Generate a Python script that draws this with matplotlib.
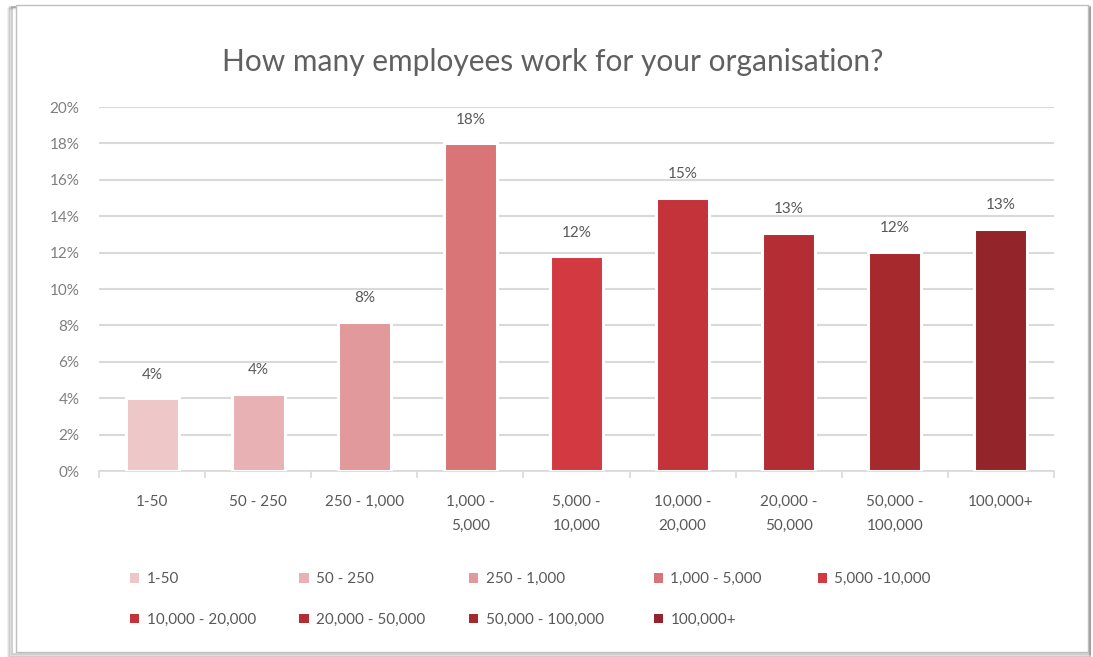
import matplotlib
matplotlib.use("Agg")
import matplotlib.pyplot as plt
from matplotlib.patches import Rectangle, Patch

categories = ["1-50", "50 - 250", "250 - 1,000", "1,000 - 5,000", "5,000 -10,000",
              "10,000 - 20,000", "20,000 - 50,000", "50,000 - 100,000", "100,000+"]
tick_labels = ["1-50", "50 - 250", "250 - 1,000", "1,000 -\n5,000", "5,000 -\n10,000",
               "10,000 -\n20,000", "20,000 -\n50,000", "50,000 -\n100,000", "100,000+"]
shares = [4.0, 4.25, 8.2, 18.0, 11.8, 15.0, 13.1, 12.05, 13.3]
colours = ["#EEC7C9", "#E8B2B4", "#E1999B", "#D97577", "#D33941",
           "#C4323A", "#B52D34", "#A6292E", "#93252A"]

plt.rcParams['font.family'] = ['Lato', 'DejaVu Sans']
grey = "#595959"

fig = plt.figure(figsize=(10.93, 6.57), dpi=100)

# framed card with a soft drop shadow
for i, a in enumerate([0.05, 0.08, 0.12, 0.18]):
    d = (4 - i) * 0.0012
    fig.patches.append(Rectangle((0.012 - d, 0.006 - d * 1.6), 0.985 + d, 0.985 + d * 0.6,
                                 transform=fig.transFigure, facecolor="none",
                                 edgecolor="black", alpha=a, linewidth=1.5, zorder=0))
fig.patches.append(Rectangle((0.0145, 0.008), 0.9805, 0.984, transform=fig.transFigure,
                             facecolor="white", edgecolor="#BFBFBF", linewidth=1, zorder=0))

ax = fig.add_axes([0.0906, 0.2831, 0.8737, 0.554])
ax.set_zorder(2)
ax.patch.set_visible(False)
x = range(len(categories))
bars = ax.bar(x, shares, width=0.5, color=colours, edgecolor="white", linewidth=2.2, zorder=3)

for b, v in zip(bars, shares):
    ax.annotate(f"{round(v)}%", (b.get_x() + b.get_width() / 2, v), xytext=(0, 12),
                textcoords="offset points", ha="center", va="bottom",
                fontsize=11, color=grey)

ax.set_xlim(-0.5, len(categories) - 0.5)
ax.set_ylim(0, 20)
ax.set_yticks(range(0, 21, 2))
ax.set_yticklabels([f"{t}%" for t in range(0, 21, 2)], fontsize=11, color="#7F7F7F")
ax.set_xticks(list(x))
ax.set_xticklabels(tick_labels, fontsize=11, color=grey, linespacing=1.9, va="top")
ax.set_xticks([i - 0.5 for i in range(len(categories) + 1)], minor=True)
ax.tick_params(axis="x", which="major", length=0, pad=17)
ax.tick_params(axis="x", which="minor", length=5, color="#D9D9D9", width=1.2)
ax.tick_params(axis="y", length=0, pad=14)
ax.yaxis.grid(True, color="#D9D9D9", linewidth=1.5, zorder=0)
ax.set_axisbelow(True)
for s in ["top", "right", "left"]:
    ax.spines[s].set_visible(False)
ax.spines["bottom"].set_color("#D9D9D9")
ax.spines["bottom"].set_linewidth(1.2)

fig.text(0.506, 0.906, "How many employees work for your organisation?", ha="center",
         va="center", fontsize=21.5, color="#606060")

# legend: five equal-width columns, two rows, filled row by row
handles = [Patch(facecolor=c, edgecolor="none") for c in colours]
col_x = [0.119, 0.274, 0.429, 0.598, 0.748]
for j, cx in enumerate(col_x):
    idx = [k for k in (j, j + 5) if k < len(categories)]
    leg = fig.legend([handles[k] for k in idx], [categories[k] for k in idx],
                     loc="upper left", bbox_to_anchor=(cx, 0.129), frameon=False,
                     fontsize=11, handlelength=0.6, handleheight=0.6, handletextpad=0.5,
                     labelspacing=1.75, labelcolor=grey, borderpad=0, borderaxespad=0)

fig.savefig("out.png", dpi=100)
